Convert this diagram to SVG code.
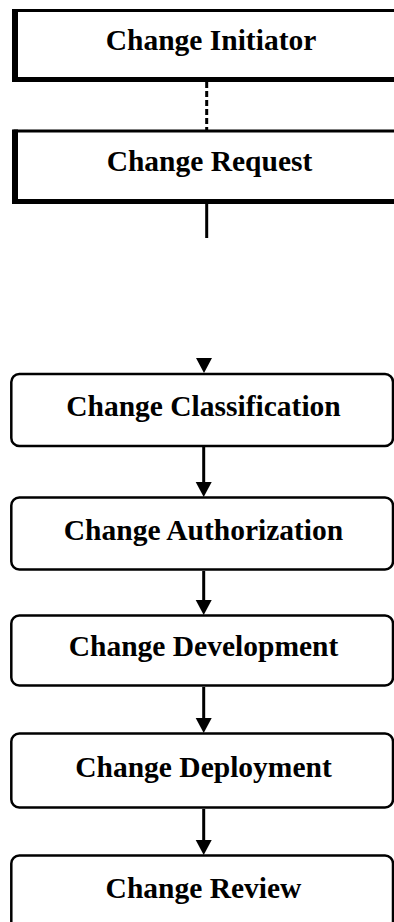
<svg xmlns="http://www.w3.org/2000/svg" width="394" height="922" viewBox="0 0 394 922">
<style>
.t{font-family:"Liberation Serif","Times New Roman",serif;font-weight:bold;font-size:29.5px;fill:#000;text-anchor:middle}
.rb{fill:#fff;stroke:#000;stroke-width:2.5}
.thick{stroke:#000;fill:none}
.ln{stroke:#000;stroke-width:3;fill:none}
.hd{fill:#000}
</style>
<rect width="394" height="922" fill="#fff"/>
<g id="connectors">
<line class="ln" x1="206.7" y1="82" x2="206.7" y2="130" stroke-dasharray="6,3"/>
<line class="ln" x1="206.7" y1="204" x2="206.7" y2="238"/>
<path class="hd" d="M196,358 L212,358 L204,373 Z"/>
<line class="ln" x1="203.7" y1="447" x2="203.7" y2="483"/>
<path class="hd" d="M195.7,482 L211.7,482 L203.7,497 Z"/>
<line class="ln" x1="203.7" y1="571" x2="203.7" y2="601"/>
<path class="hd" d="M195.7,600 L211.7,600 L203.7,615 Z"/>
<line class="ln" x1="203.7" y1="687" x2="203.7" y2="719"/>
<path class="hd" d="M195.7,718 L211.7,718 L203.7,733 Z"/>
<line class="ln" x1="203.7" y1="809" x2="203.7" y2="841"/>
<path class="hd" d="M195.7,840 L211.7,840 L203.7,855 Z"/>
</g>
<g id="n-initiator">
<rect x="15" y="10.5" width="400" height="69" fill="#fff" stroke="#000" stroke-width="3"/>
<line class="thick" x1="15" y1="9" x2="15" y2="82" stroke-width="6"/>
<line class="thick" x1="12" y1="79.5" x2="400" y2="79.5" stroke-width="5"/>
<text class="t" x="211" y="50">Change Initiator</text>
</g>
<g id="n-request">
<rect x="15" y="131" width="400" height="70.5" fill="#fff" stroke="#000" stroke-width="3"/>
<line class="thick" x1="15" y1="129.5" x2="15" y2="204" stroke-width="6"/>
<line class="thick" x1="12" y1="201.5" x2="400" y2="201.5" stroke-width="5"/>
<text class="t" x="209.5" y="171">Change Request</text>
</g>
<g id="n-classification">
<rect class="rb" x="11.3" y="374" width="381.7" height="72" rx="8"/>
<text class="t" x="203.5" y="416">Change Classification</text>
</g>
<g id="n-authorization">
<rect class="rb" x="11.3" y="497.5" width="381.7" height="72" rx="8"/>
<text class="t" x="203.5" y="540">Change Authorization</text>
</g>
<g id="n-development">
<rect class="rb" x="11.3" y="615.5" width="381.7" height="70" rx="8"/>
<text class="t" x="203.5" y="656">Change Development</text>
</g>
<g id="n-deployment">
<rect class="rb" x="11.3" y="733.5" width="381.7" height="74" rx="8"/>
<text class="t" x="203.5" y="777">Change Deployment</text>
</g>
<g id="n-review">
<rect class="rb" x="11.3" y="855.5" width="381.7" height="100" rx="8"/>
<text class="t" x="203.5" y="898">Change Review</text>
</g>
</svg>
